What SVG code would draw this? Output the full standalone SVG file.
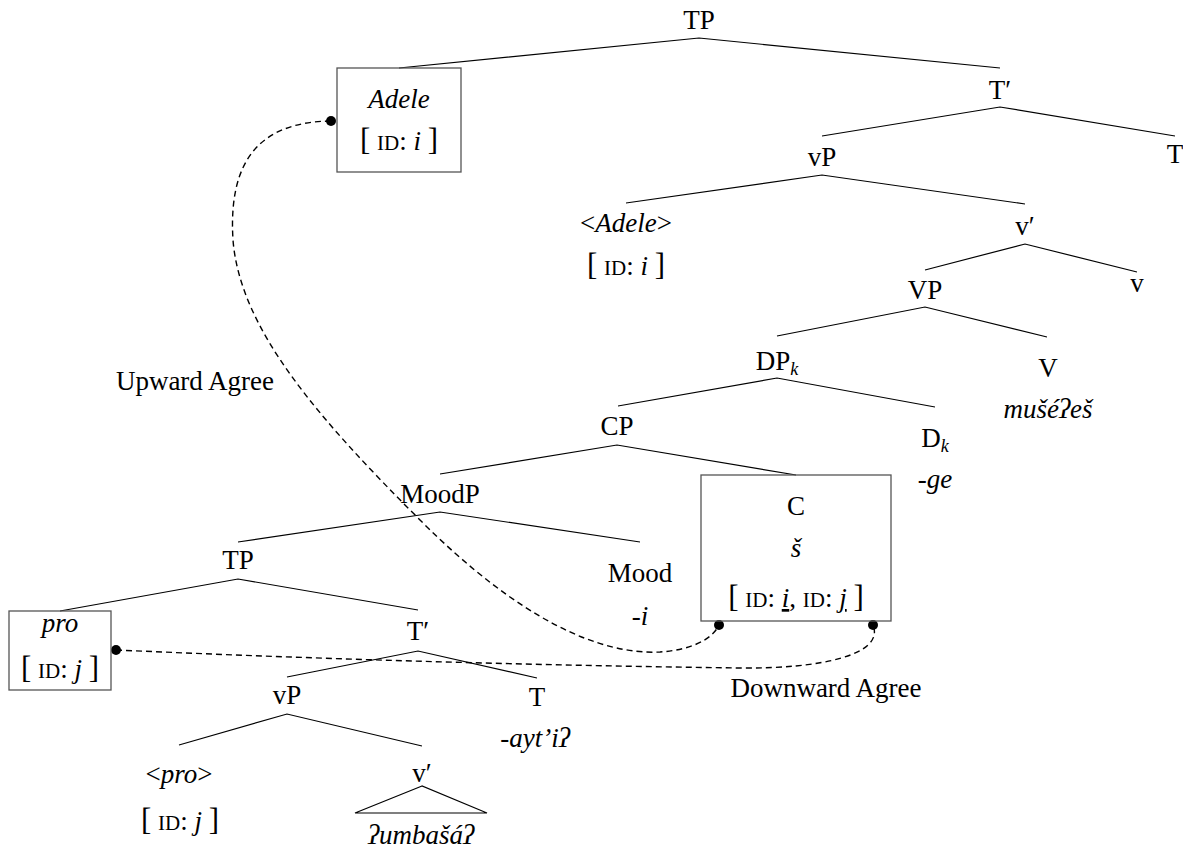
<svg xmlns="http://www.w3.org/2000/svg" width="1183" height="848" viewBox="0 0 1183 848" font-family="Liberation Serif, Times New Roman, serif">
<style>
text{font-family:'Liberation Serif','Times New Roman',Tinos,serif;font-size:27px;fill:#000;text-anchor:middle}
.it{font-style:italic}
.sc{font-size:21px}
.br{font-size:31px}
.sub{font-size:18px;font-style:italic}
.lbl{font-size:27px}
.edge{stroke:#000;stroke-width:1.2;fill:none}
.box{stroke:#555;stroke-width:1.3;fill:none}
.agree{stroke:#000;stroke-width:1.4;fill:none;stroke-dasharray:6 4}
.dot{fill:#000}
</style>
<rect width="1183" height="848" fill="#fff"/>
<g id="connectors">
<polyline class="edge" points="399,68 699,38 1000,68"/>
<polyline class="edge" points="822,136 1000,107 1175,136"/>
<polyline class="edge" points="626,203 822,175 1025,204"/>
<polyline class="edge" points="925,270 1025,244 1137,272"/>
<polyline class="edge" points="777,336 925,307 1047,337"/>
<polyline class="edge" points="618,406 777,378 935,407"/>
<polyline class="edge" points="440,474 617,445 796,475"/>
<polyline class="edge" points="238,542 440,512 640,542"/>
<polyline class="edge" points="60,611 238,579 418,610"/>
<polyline class="edge" points="287,677 418,651 537,678"/>
<polyline class="edge" points="179,745 287,714 422,746"/>
<polygon class="edge" points="422,786 355,813 487,813"/>
<path id="upward" class="agree" d="M331,121 C260,122 228,160 233,240 C240,330 320,420 420,520 C520,620 600,655 660,652 C690,650 712,640 719,625"/>
<path id="downward" class="agree" d="M116,650 Q430,664 740,668 C820,669 885,655 873,625"/>
<circle class="dot" cx="331" cy="121" r="5"/>
<circle class="dot" cx="719" cy="625" r="5"/>
<circle class="dot" cx="873" cy="625" r="5"/>
<circle class="dot" cx="116" cy="650" r="5"/>
</g>
<g id="n-TP"><text x="699" y="29">TP</text></g>
<g id="n-Adele">
<rect class="box" x="337" y="68" width="124" height="104"/>
<text class="it" x="399" y="108">Adele</text>
<text x="399" y="150"><tspan class="br">[</tspan> <tspan class="sc">ID</tspan>: <tspan class="it">i</tspan> <tspan class="br">]</tspan></text>
</g>
<g id="n-Tbar"><text x="1000" y="99">T′</text></g>
<g id="n-T"><text x="1175" y="163">T</text></g>
<g id="n-vP"><text x="822" y="166">vP</text></g>
<g id="n-Adele-copy">
<text x="626" y="232"><tspan>&lt;</tspan><tspan class="it">Adele</tspan><tspan>&gt;</tspan></text>
<text x="626" y="275"><tspan class="br">[</tspan> <tspan class="sc">ID</tspan>: <tspan class="it">i</tspan> <tspan class="br">]</tspan></text>
</g>
<g id="n-vbar"><text x="1025" y="235">v′</text></g>
<g id="n-VP"><text x="925" y="299">VP</text></g>
<g id="n-v"><text x="1137" y="292">v</text></g>
<g id="n-DP"><text x="777" y="370">DP<tspan class="sub" dy="5">k</tspan></text></g>
<g id="n-V"><text x="1048" y="377">V</text><text class="it" x="1048" y="418">mušéʔeš</text></g>
<g id="n-CP"><text x="617" y="435">CP</text></g>
<g id="n-D"><text x="935" y="447">D<tspan class="sub" dy="5">k</tspan></text><text class="it" x="935" y="488">-ge</text></g>
<g id="n-MoodP"><text x="440" y="503">MoodP</text></g>
<g id="n-C">
<rect class="box" x="701" y="475" width="190" height="146"/>
<text x="796" y="515">C</text>
<text class="it" x="796" y="557">š</text>
<text x="796" y="607"><tspan class="br">[</tspan> <tspan class="sc">ID</tspan>: <tspan class="it" text-decoration="underline">i</tspan>, <tspan class="sc">ID</tspan>: <tspan class="it" text-decoration="underline">j</tspan> <tspan class="br">]</tspan></text>
</g>
<g id="n-TP2"><text x="238" y="569">TP</text></g>
<g id="n-Mood"><text x="640" y="582">Mood</text><text class="it" x="640" y="625">-i</text></g>
<g id="n-pro">
<rect class="box" x="9" y="611" width="102" height="79"/>
<text class="it" x="60" y="632">pro</text>
<text x="60" y="678"><tspan class="br">[</tspan> <tspan class="sc">ID</tspan>: <tspan class="it">j</tspan> <tspan class="br">]</tspan></text>
</g>
<g id="n-Tbar2"><text x="418" y="640">T′</text></g>
<g id="n-T2"><text x="537" y="706">T</text><text class="it" x="535" y="747">-aytʼiʔ</text></g>
<g id="n-vP2"><text x="287" y="704">vP</text></g>
<g id="n-pro-copy">
<text x="179" y="783"><tspan>&lt;</tspan><tspan class="it">pro</tspan><tspan>&gt;</tspan></text>
<text x="180" y="830"><tspan class="br">[</tspan> <tspan class="sc">ID</tspan>: <tspan class="it">j</tspan> <tspan class="br">]</tspan></text>
</g>
<g id="n-vbar2"><text x="422" y="782">v′</text><text class="it" x="421" y="844">ʔumbašáʔ</text></g>
<g id="labels">
<text class="lbl" x="195" y="390">Upward Agree</text>
<text class="lbl" x="826" y="697">Downward Agree</text>
</g>
</svg>
